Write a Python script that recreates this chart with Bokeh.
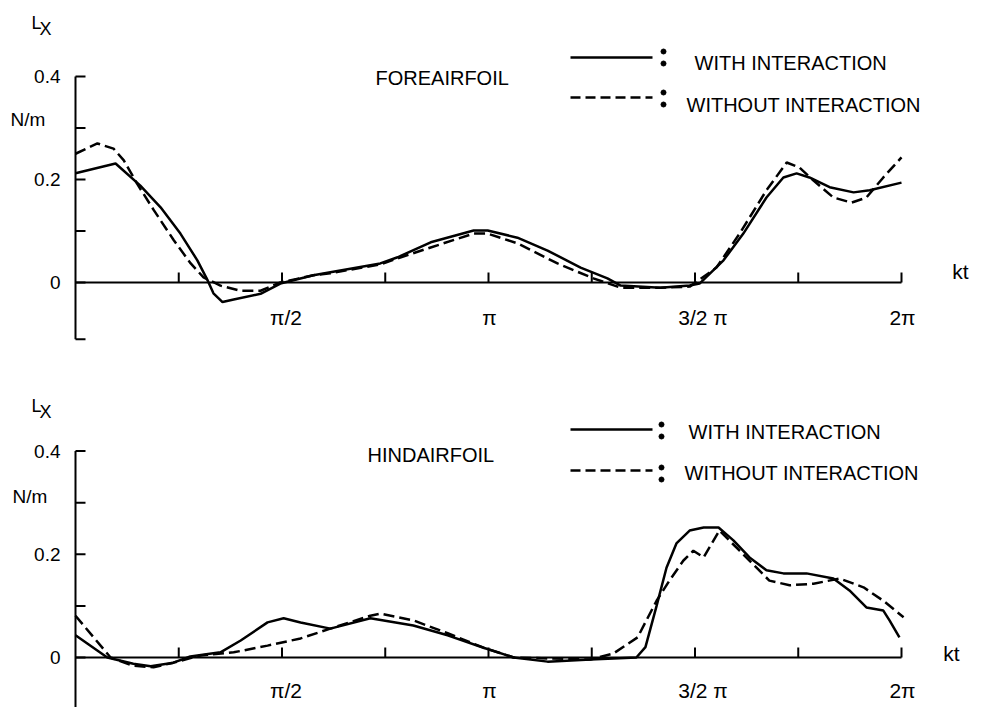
from bokeh.plotting import figure
from bokeh.models import Range1d, Label
from bokeh.layouts import column
from bokeh.core.properties import value
from bokeh.embed import file_html
from bokeh.resources import INLINE

FONT = "Liberation Sans"

# ---------------- data (kt in units of pi, Lx in N/m) ----------------
fore_with_kt = [0.0, 0.097, 0.157, 0.206, 0.254, 0.295, 0.320, 0.334, 0.356, 0.383,
                0.448, 0.496, 0.576, 0.617, 0.738, 0.780, 0.860, 0.964, 0.998, 1.070,
                1.143, 1.223, 1.288, 1.320, 1.416, 1.487, 1.511, 1.569, 1.617, 1.673,
                1.714, 1.746, 1.777, 1.826, 1.884, 1.923, 2.0]
fore_with_lx = [0.212, 0.231, 0.188, 0.146, 0.095, 0.043, 0.004, -0.021, -0.038, -0.033,
                -0.022, -0.002, 0.014, 0.020, 0.037, 0.049, 0.078, 0.101, 0.101, 0.087,
                0.062, 0.029, 0.008, -0.006, -0.010, -0.006, -0.002, 0.043, 0.095, 0.165,
                0.204, 0.212, 0.204, 0.185, 0.175, 0.179, 0.194]

fore_without_kt = [0.0, 0.053, 0.092, 0.117, 0.149, 0.190, 0.238, 0.279, 0.310, 0.351,
                   0.400, 0.448, 0.496, 0.576, 0.617, 0.738, 0.780, 0.860, 0.964, 0.998,
                   1.070, 1.167, 1.254, 1.320, 1.416, 1.487, 1.552, 1.608, 1.673, 1.722,
                   1.753, 1.787, 1.835, 1.879, 1.915, 1.956, 2.0]
fore_without_lx = [0.250, 0.270, 0.260, 0.237, 0.192, 0.140, 0.082, 0.037, 0.010, -0.006,
                   -0.016, -0.016, 0.0, 0.014, 0.018, 0.035, 0.047, 0.068, 0.095, 0.095,
                   0.076, 0.037, 0.008, -0.010, -0.010, -0.008, 0.029, 0.095, 0.179, 0.233,
                   0.223, 0.198, 0.165, 0.155, 0.165, 0.204, 0.243]

hind_with_kt = [0.0, 0.077, 0.140, 0.182, 0.237, 0.278, 0.351, 0.400, 0.465, 0.504,
                0.545, 0.617, 0.714, 0.818, 0.901, 0.988, 1.061, 1.143, 1.247, 1.358,
                1.380, 1.407, 1.431, 1.455, 1.487, 1.521, 1.557, 1.593, 1.632, 1.673,
                1.714, 1.770, 1.835, 1.874, 1.915, 1.956, 1.971, 1.995]
hind_with_lx = [0.043, 0.0, -0.012, -0.017, -0.010, 0.002, 0.010, 0.033, 0.068, 0.076,
                0.068, 0.056, 0.076, 0.062, 0.043, 0.019, 0.0, -0.008, -0.004, 0.0,
                0.020, 0.100, 0.174, 0.221, 0.246, 0.252, 0.252, 0.227, 0.194, 0.169,
                0.163, 0.163, 0.153, 0.130, 0.097, 0.091, 0.072, 0.039]

hind_without_kt = [0.0, 0.044, 0.085, 0.140, 0.189, 0.237, 0.303, 0.383, 0.465, 0.545,
                   0.617, 0.714, 0.738, 0.818, 0.901, 0.988, 1.061, 1.247, 1.303, 1.361,
                   1.407, 1.438, 1.472, 1.496, 1.521, 1.559, 1.608, 1.649, 1.680, 1.729,
                   1.787, 1.850, 1.908, 1.956, 2.005]
hind_without_lx = [0.081, 0.039, 0.0, -0.016, -0.019, -0.010, 0.004, 0.010, 0.023, 0.037,
                   0.056, 0.081, 0.085, 0.072, 0.047, 0.019, 0.0, -0.004, 0.008, 0.039,
                   0.110, 0.149, 0.188, 0.207, 0.194, 0.246, 0.207, 0.174, 0.149, 0.140,
                   0.143, 0.153, 0.136, 0.110, 0.078]

x_ticks = [0.25, 0.5, 0.75, 1.0, 1.25, 1.5, 1.75, 2.0]
x_label_pos = [0.5, 1.0, 1.5, 2.0]
x_label_txt = ["π/2", "π", "3/2 π", "2π"]
y_major = [0, 0.2, 0.4]
y_minor = [0.1, 0.3]
y_label_txt = ["0", "0.2", "0.4"]

legend_labels = ["WITH INTERACTION", "WITHOUT INTERACTION"]

PAGE_W = 984
X0_PX = 75          # page x of kt = 0
PX_PER_PI = 413.0   # pixels per pi
INK = "black"


def tx(px):
    return (px - X0_PX) / PX_PER_PI


def make_panel(top_px, height, y0_px, unit_px, kt_a, lx_a, kt_b, lx_b, title, lay):
    def ty(py):
        return (y0_px - py) / unit_px

    def label(px, py, txt, size, align="left", style="normal"):
        p.add_layout(Label(x=tx(px), y=ty(py), text=txt, text_font=FONT,
                           text_font_size=size, text_font_style=style,
                           text_align=align, text_baseline="middle", text_color=INK))

    p = figure(width=PAGE_W, height=height, output_backend="svg", toolbar_location=None,
               x_range=Range1d(tx(0), tx(PAGE_W)),
               y_range=Range1d(ty(top_px + height), ty(top_px)),
               x_axis_location=None, y_axis_location=None,
               min_border_left=0, min_border_right=0, min_border_top=0, min_border_bottom=0)
    p.outline_line_color = None
    p.grid.visible = False
    p.background_fill_color = "white"
    p.border_fill_color = "white"

    tick_x = 10.0 / PX_PER_PI
    tick_y = 10.0 / unit_px

    # ---- y axis (kt = 0) ----
    y_lo = lay["ybound"]
    p.line([0, 0], [y_lo, max(y_major)], line_color=INK, line_width=2)
    yt = y_major + y_minor + [y_lo]
    p.segment(x0=[0] * len(yt), y0=yt, x1=[tick_x] * len(yt), y1=yt,
              line_color=INK, line_width=2)
    p.text(x=[tx(X0_PX - 15)] * len(y_major), y=y_major, text=y_label_txt,
           text_font=value(FONT), text_font_size="19px", text_align="right",
           text_baseline="middle", text_color=INK)

    # ---- x axis along Lx = 0 ----
    p.line([0, max(x_ticks)], [0, 0], line_color=INK, line_width=2)
    p.segment(x0=x_ticks, y0=[0] * len(x_ticks), x1=x_ticks,
              y1=[tick_y] * len(x_ticks), line_color=INK, line_width=2)
    lab_y = ty(y0_px + lay["xlab_dy"])
    p.text(x=x_label_pos, y=[lab_y] * len(x_label_pos), text=x_label_txt,
           x_offset=[4, 1, 8, 1],
           text_font=value(FONT), text_font_size="21px", text_align="center",
           text_baseline="middle", text_color=INK)

    # ---- curves ----
    p.line(kt_a, lx_a, line_color=INK, line_width=2.5)
    p.line(kt_b, lx_b, line_color=INK, line_width=2.5, line_dash="11 5")

    # ---- legend ----
    ly1, ly2 = lay["leg_line_y"]
    p.line([tx(570), tx(652)], [ty(ly1), ty(ly1)], line_color=INK, line_width=2.5)
    p.line([tx(570), tx(652)], [ty(ly2), ty(ly2)], line_color=INK, line_width=2.5,
           line_dash="10 5")
    dots_x, dots_y = [], []
    for (cx, cy) in lay["colons"]:
        dots_x += [tx(cx), tx(cx)]
        dots_y += [ty(cy - 6), ty(cy + 6)]
    p.scatter(dots_x, dots_y, marker="circle", size=5, fill_color=INK, line_color=INK)
    for txt, (lx, lyy) in zip(legend_labels, lay["leg_text"]):
        label(lx, lyy, txt, "20px")

    # ---- panel title, kt, L_x, N/m ----
    label(*lay["title"], title, "20px")
    label(*lay["kt"], "kt", "21px", align="center")
    Lx_, Ly_ = lay["L"]
    label(Lx_, Ly_, "L", "18px")
    label(Lx_ + 8, Ly_ + 6, "X", "18px")
    label(*lay["Nm"], "N/m", "19px")
    return p


top = make_panel(0, 370, 282, 515.0, fore_with_kt, fore_with_lx,
                 fore_without_kt, fore_without_lx, "FOREAIRFOIL",
                 dict(ybound=-0.11, xlab_dy=35, leg_line_y=(57, 97),
                      colons=[(663, 57), (663, 98)],
                      leg_text=[(694, 62), (686, 104)],
                      title=(375, 77), kt=(960, 271), L=(31, 22), Nm=(10, 119)))

bottom = make_panel(370, 337, 657, 516.0, hind_with_kt, hind_with_lx,
                    hind_without_kt, hind_without_lx, "HINDAIRFOIL",
                    dict(ybound=-0.1, xlab_dy=33, leg_line_y=(429, 470),
                         colons=[(661, 430), (661, 473)],
                         leg_text=[(688, 431), (684, 472)],
                         title=(367, 454), kt=(951, 653), L=(31, 405), Nm=(12, 496)))

layout = column(top, bottom, spacing=0)
open("out.html", "w").write(file_html(layout, INLINE))
